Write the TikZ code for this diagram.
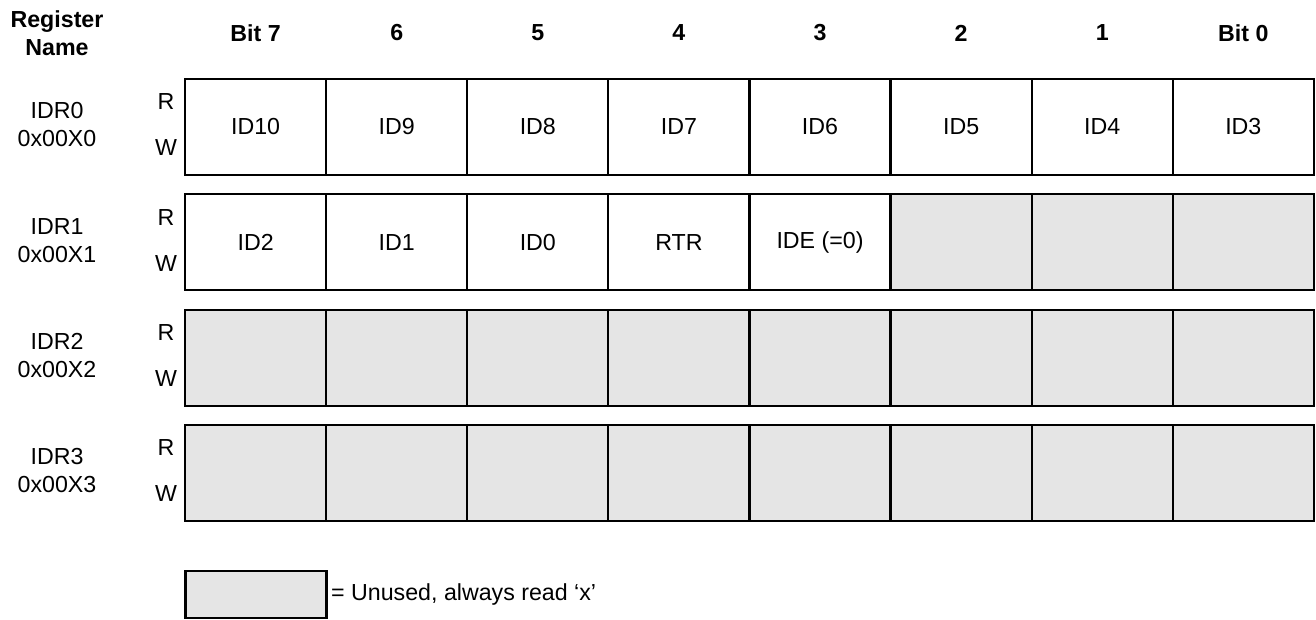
\documentclass[tikz,border=0pt]{standalone}
\usepackage{fontspec}
\setmainfont{Liberation Sans}
\usetikzlibrary{positioning}

\definecolor{unusedgray}{RGB}{229,229,229}

\begin{document}
\begin{tikzpicture}
		[
			x=1pt, y=-1pt,
			font=\fontsize{23.2}{28}\selectfont,
			head/.style={font=\fontsize{23.2}{28}\selectfont\bfseries, align=center},
			regname/.style={align=center},
			cell/.style={draw, line width=2.2pt, minimum width=141.1pt, minimum height=96pt, inner sep=0pt},
			unused/.style={cell, fill=unusedgray},
		]

		\useasboundingbox (0,0) rectangle (1316,619);

		% Header
		\node[head] (regtitle) at (57,33) {Register\\Name};
		\foreach \name/\text/\col in
		{
			b7/Bit 7/0,
			b6/6/1,
			b5/5/2,
			b4/4/3,
			b3/3/4,
			b2/2/5,
			b1/1/6,
			b0/Bit 0/7
		}
			\node[head] (\name) at ({255.6+141.1*\col},33) {\text};

		% Register names
		\foreach \row in {0,...,3}
		{
			\node[regname] (idr\row) at (57,{125+115.3*\row}) {IDR\row\\0x00X\row};
			\node (r\row) at (166,{102+115.3*\row}) {R};
			\node (w\row) at (166,{148+115.3*\row}) {W};
		}

		% Bits
		\foreach \row/\col/\text in
		{
			0/0/ID10,
			0/1/ID9,
			0/2/ID8,
			0/3/ID7,
			0/4/ID6,
			0/5/ID5,
			0/6/ID4,
			0/7/ID3,
			1/0/ID2,
			1/1/ID1,
			1/2/ID0,
			1/3/RTR,
			1/4/{IDE (=0)}
		}
			\node[cell] (c\row\col) at ({255.6+141.1*\col},{127+115.3*\row}) {\text};

		% Unused bits
		\foreach \row/\col in
		{
			1/5,
			1/6,
			1/7}
			\node[unused] (c\row\col) at ({255.6+141.1*\col},{127+115.3*\row}) {};
		\foreach \row in {2,3}
			\foreach \col in {0,...,7}
				\node[unused] (c\row\col) at ({255.6+141.1*\col},{127+115.3*\row}) {};

		% Key
		\node[unused, minimum height=47pt] (key) at (256,594.5) {};
		\node[right=0pt of key] (keytext) {= Unused, always read ‘x’};

		\end{tikzpicture}
\end{document}
